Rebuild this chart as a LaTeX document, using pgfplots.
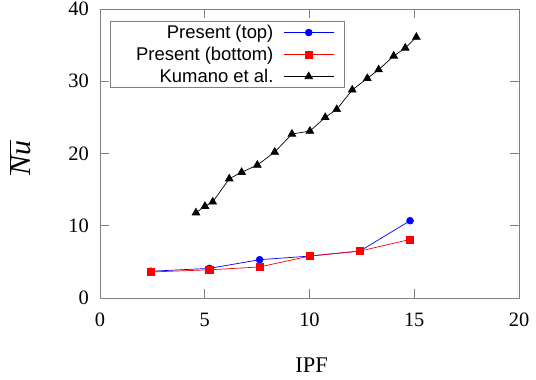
\documentclass[border=0pt]{standalone}
\usepackage{fontspec}
\setmainfont{Liberation Serif}
\newfontfamily\arial{Liberation Sans}
\usepackage{pgfplots}
\pgfplotsset{compat=1.18}
\definecolor{axgray}{RGB}{128,128,128}
\begin{document}
\begin{tikzpicture}
\path[use as bounding box] (-100bp,-82bp) rectangle (436bp,298bp);
\begin{axis}[
  at={(0,0)}, anchor=south west,
  scale only axis, width=419bp, height=289bp,
  xmin=0, xmax=20, ymin=0, ymax=40,
  xtick={0,5,10,15,20}, ytick={0,10,20,30,40},
  axis line style={axgray, line width=0.8pt},
  tick style={axgray, line width=0.8pt},
  major tick length=9bp,
  tick align=inside,
  /pgf/number format/assume math mode=true,
  ticklabel style={font=\fontsize{20.5}{24}\selectfont, inner sep=0pt},
  xticklabel style={anchor=center, yshift=-22bp},
  yticklabel style={anchor=east, xshift=-11bp},
  xlabel={IPF},
  ylabel={$\overline{\mbox{\fontsize{30}{34}\selectfont\itshape Nu}}$},
  every axis x label/.style={at={(axis description cs:0.505,-0.2336)}, anchor=center, font=\fontsize{22.5}{26}\selectfont},
  every axis y label/.style={at={(axis description cs:-0.19,0.485)}, anchor=center, rotate=90},
  legend plot pos=right,
  legend cell align=right,
  legend image code/.code={\draw[mark repeat=2,mark phase=2,#1] plot coordinates {(0bp,0bp) (25bp,0bp) (50bp,0bp)};},
  legend style={at={(axis description cs:0.0239,0.958)}, anchor=north west,
    draw=axgray, line width=0.8pt, font=\arial\fontsize{18.5}{21}\selectfont,
    inner xsep=10bp, inner ysep=1.5bp, row sep=3bp, column sep=10bp,
    nodes={inner sep=0pt, text height=15.2bp, text depth=3.8bp}},
]
\addplot[blue, line width=0.7pt, mark=*, mark size=3.4bp, mark options={solid, fill=blue, draw=blue}] coordinates {
(2.42,3.7) (5.22,4.1) (7.62,5.3) (10.0,5.8) (12.41,6.5) (14.8,10.7)};
\addlegendentry{\makebox[153bp][r]{Present (top)}}
\addplot[red, line width=0.7pt, mark=square*, mark size=3.6bp, mark options={solid, fill=red, draw=red}] coordinates {
(2.42,3.6) (5.22,3.9) (7.62,4.3) (10.0,5.8) (12.41,6.5) (14.8,8.1)};
\addlegendentry{\makebox[153bp][r]{Present (bottom)}}
\addplot[black, line width=0.7pt, mark=triangle*, mark size=4.4bp, mark options={solid, fill=black}] coordinates {
(4.58,11.8) (5.01,12.7) (5.38,13.3) (6.17,16.5) (6.76,17.4) (7.51,18.4) (8.34,20.2) (9.16,22.7) (10.02,23.1) (10.75,25.0) (11.3,26.1) (12.04,28.8) (12.76,30.4) (13.3,31.6) (14.02,33.5) (14.57,34.6) (15.1,36.1)};
\addlegendentry{\makebox[153bp][r]{Kumano et al.}}
\end{axis}
\end{tikzpicture}
\end{document}
